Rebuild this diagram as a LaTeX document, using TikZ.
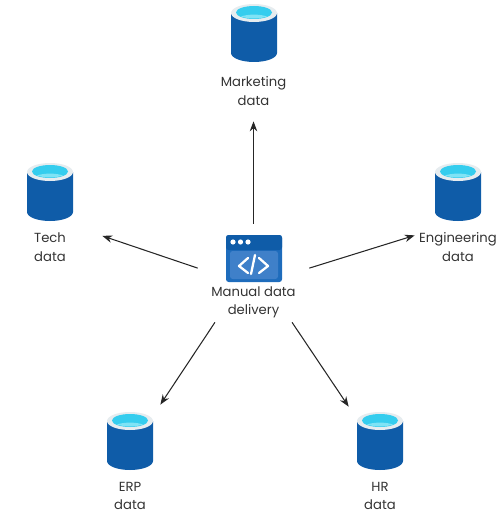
\documentclass[tikz,border=0pt]{standalone}
\usepackage{fontspec}
\setmainfont{Poppins}
\usepackage{xcolor}
\usetikzlibrary{arrows.meta, positioning}
\definecolor{dbblue}{HTML}{0F5CA8}
\definecolor{dbrim}{HTML}{E6ECEF}
\definecolor{dbcyan}{HTML}{35CDEE}
\definecolor{dbpale}{HTML}{7FE3F5}
\definecolor{winblue}{HTML}{1E6CBC}
\definecolor{winpanel}{HTML}{3F80C9}
\definecolor{inkgray}{HTML}{333333}

\begin{document}
\begin{tikzpicture}[
  x=0.02cm, y=-0.02cm,
  labelnode/.style={inner sep=0pt, align=center, text=inkgray,
                    font=\fontsize{7.5}{10.5}\selectfont},
  boxnode/.style={inner sep=0pt, minimum width=#1},
  arw/.style={-{Stealth[length=2mm, width=1.5mm]}, line width=0.6pt, black!85},
  datadb/.pic={
    \fill[dbblue] (-23,-20) -- (-23,20) arc[start angle=180, end angle=0, x radius=23, y radius=9]
      -- (23,-20) -- cycle;
    \fill[dbrim] (0,-20) ellipse[x radius=23, y radius=9];
    \fill[dbcyan] (0,-20.5) ellipse[x radius=18, y radius=6.5];
    \fill[dbpale] (-13,-16.5) .. controls (-6,-19) and (6,-19) .. (13,-16.5)
      .. controls (6,-14) and (-6,-14) .. (-13,-16.5) -- cycle;
  }
]
\useasboundingbox (0,0) rectangle (500,517);

% === Central window ===
\fill[winblue, rounded corners=1.5pt] (226,235) rectangle (282,282);
\fill[dbblue, rounded corners=1.5pt] (226,250) -- (226,235) -- (282,235) -- (282,250) -- cycle;
\fill[winpanel, rounded corners=1.5pt] (230,251) rectangle (278,279);
\foreach \dotx in {233,240.5,248}
  \fill[white] (\dotx,242) circle[radius=2.6];
\draw[white, line width=1.3pt, line cap=round, line join=round]
  (248,258) -- (239,266) -- (248,273)
  (259,258) -- (268,266) -- (259,273)
  (255,255) -- (251,274);

\node[boxnode=2.22cm, minimum height=1.96cm] (hub) at (253.5,273) {};
\node[labelnode] (hublabel) at (253.5,302.5) {Manual data\\delivery};

% === Five stores ===
\pic at (254,33) {datadb};
\pic at (50,192) {datadb};
\pic at (458,192) {datadb};
\pic at (130,441) {datadb};
\pic at (380,441) {datadb};

\node[boxnode=1.2cm, minimum height=1.4cm] (erpbox) at (130,440) {};
\node[boxnode=1.2cm, minimum height=1.4cm] (hrbox) at (379,442) {};

% === Labels ===
\node[labelnode, minimum height=1.2cm] (marketing) at (253.5,91) {Marketing\\data};
\node[labelnode, minimum width=2.08cm] (tech) at (50,247) {Tech\\data};
\node[labelnode, minimum width=1.72cm] (engineering) at (458,247) {Engineering\\data};
\node[labelnode] (erp) at (130,496) {ERP\\data};
\node[labelnode] (hr) at (380,496) {HR\\data};

% === Arrows ===
\draw[arw] (hub.north) -- (marketing.south);
\draw[arw] (hub.175) -- (tech.12);
\draw[arw] (hub.5) -- (engineering.165);
\draw[arw] (hub.232.6) -- (erpbox.north east);
\draw[arw] (hub.308.2) -- (hrbox.north west);

\end{tikzpicture}
\end{document}
